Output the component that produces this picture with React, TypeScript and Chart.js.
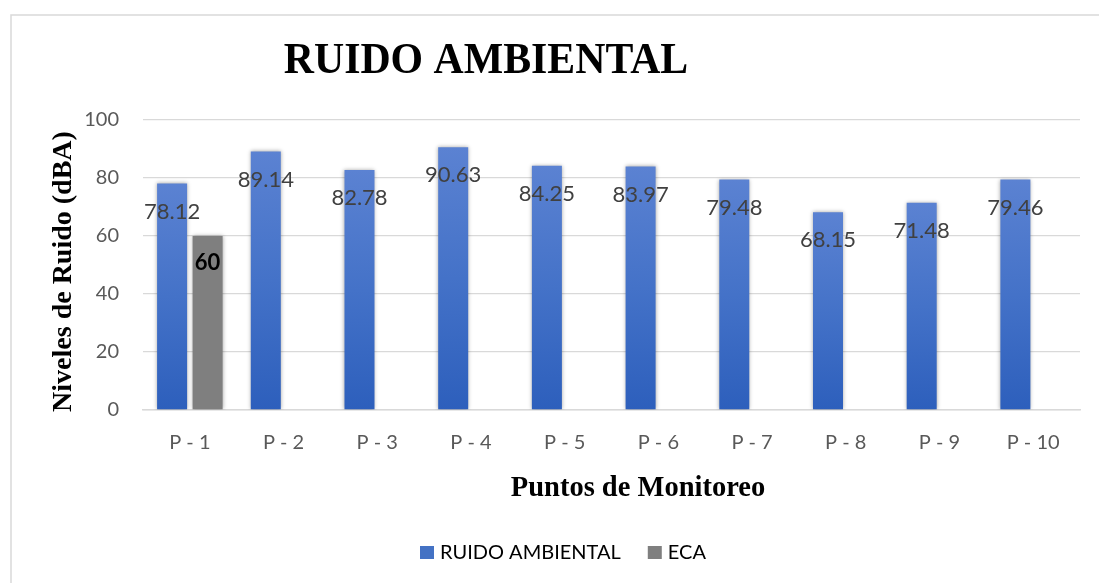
import React, { useEffect, useRef } from "react";
import { Chart, registerables } from "chart.js";

Chart.register(...registerables);

const categories = ["P - 1", "P - 2", "P - 3", "P - 4", "P - 5", "P - 6", "P - 7", "P - 8", "P - 9", "P - 10"];
const ruidoValues = [78.12, 89.14, 82.78, 90.63, 84.25, 83.97, 79.48, 68.15, 71.48, 79.46];
const ecaValues: (number | null)[] = [60, null, null, null, null, null, null, null, null, null];
const yTicks = [0, 20, 40, 60, 80, 100];
const chartTitle = "RUIDO AMBIENTAL";
const yTitle = "Niveles de Ruido (dBA)";
const xTitle = "Puntos de Monitoreo";
const seriesNames = ["RUIDO AMBIENTAL", "ECA"];
const seriesColors = ["#4472c4", "#7f7f7f"];

const SANS = "Lato, 'Open Sans', sans-serif";
const SERIF = "'Liberation Serif', 'Times New Roman', serif";

const framePlugin = {
  id: "frame",
  beforeDraw(chart: any) {
    const ctx = chart.ctx;
    ctx.save();
    ctx.fillStyle = "#ffffff";
    ctx.fillRect(0, 0, chart.width, chart.height);
    ctx.strokeStyle = "#d9d9d9";
    ctx.lineWidth = 1.5;
    ctx.strokeRect(11, 15, chart.width + 50, chart.height + 50);
    ctx.restore();
  },
};

const shadowPlugin = {
  id: "barShadow",
  beforeDatasetsDraw(chart: any) {
    const ctx = chart.ctx;
    ctx.save();
    ctx.shadowColor = "rgba(0,0,0,0.35)";
    ctx.shadowBlur = 4;
    ctx.shadowOffsetX = 0;
    ctx.shadowOffsetY = 0;
  },
  afterDatasetsDraw(chart: any) {
    chart.ctx.restore();
  },
};

const labelsPlugin = {
  id: "barLabels",
  afterDatasetsDraw(chart: any) {
    const ctx = chart.ctx;
    ctx.save();
    ctx.textAlign = "center";
    ctx.textBaseline = "middle";
    chart.data.datasets.forEach((ds: any, di: number) => {
      const meta = chart.getDatasetMeta(di);
      meta.data.forEach((el: any, i: number) => {
        const v = ds.data[i];
        if (v === null || v === undefined) return;
        if (di === 0) {
          ctx.font = `22px ${SANS}`;
          ctx.fillStyle = "#404040";
          ctx.fillText(String(v), el.x, el.y + 28);
        } else {
          ctx.font = `bold 22px ${SANS}`;
          ctx.fillStyle = "#000000";
          ctx.fillText(String(v), el.x, el.y + 27);
        }
      });
    });
    ctx.restore();
  },
};

const titlesPlugin = {
  id: "titles",
  afterDraw(chart: any) {
    const ctx = chart.ctx;
    ctx.save();
    ctx.fillStyle = "#000000";
    ctx.textAlign = "center";
    ctx.textBaseline = "alphabetic";
    // main title
    ctx.save();
    ctx.translate(486, 73);
    ctx.scale(0.95, 1);
    ctx.font = `bold 44px ${SERIF}`;
    ctx.fillText(chartTitle, 0, 0);
    ctx.restore();
    // x title
    ctx.save();
    ctx.translate(638, 496);
    ctx.scale(0.95, 1);
    ctx.font = `bold 30px ${SERIF}`;
    ctx.fillText(xTitle, 0, 0);
    ctx.restore();
    // y title
    ctx.save();
    ctx.translate(71, (130 + 413) / 2);
    ctx.rotate(-Math.PI / 2);
    ctx.font = `bold 28px ${SERIF}`;
    ctx.fillText(yTitle, 0, 0);
    ctx.restore();

    // legend
    ctx.font = `20px ${SANS}`;
    ctx.textAlign = "left";
    ctx.textBaseline = "middle";
    let x = 420;
    const cy = 553;
    seriesNames.forEach((name, i) => {
      ctx.fillStyle = i === 0 ? "#4472c4" : seriesColors[i];
      ctx.fillRect(x, cy - 7, 14, 13);
      ctx.fillStyle = "#000000";
      ctx.fillText(name, x + 20, cy);
      x += 20 + ctx.measureText(name).width + 27;
    });
    ctx.restore();
  },
};

function barGradient(ctx: any) {
  const chart = ctx.chart;
  const yScale = chart.scales.y;
  const v = ctx.raw;
  if (!yScale || v === null || v === undefined || ctx.type !== "data") return "#4472c4";
  const top = yScale.getPixelForValue(v);
  const bottom = yScale.getPixelForValue(0);
  if (!isFinite(top) || !isFinite(bottom) || top === bottom) return "#4472c4";
  const g = chart.ctx.createLinearGradient(0, top, 0, bottom);
  g.addColorStop(0, "#5b82d2");
  g.addColorStop(0.5, "#4472c8");
  g.addColorStop(1, "#2d5fbc");
  return g;
}

export default function App() {
  const canvasRef = useRef<HTMLCanvasElement | null>(null);

  useEffect(() => {
    document.body.style.margin = "0";
    const canvas = canvasRef.current;
    if (!canvas) return;
    const chart = new Chart(canvas, {
      type: "bar",
      data: {
        labels: categories,
        datasets: [
          {
            label: seriesNames[0],
            data: ruidoValues,
            backgroundColor: barGradient as any,
            borderWidth: 0,
            categoryPercentage: 0.758,
            barPercentage: 0.845,
          },
          {
            label: seriesNames[1],
            data: ecaValues,
            backgroundColor: seriesColors[1],
            borderWidth: 0,
            categoryPercentage: 0.758,
            barPercentage: 0.845,
          },
        ],
      },
      options: {
        animation: false,
        responsive: false,
        maintainAspectRatio: false,
        layout: { padding: { top: 120, right: 19, bottom: 0, left: 0 } },
        plugins: {
          title: { display: false },
          tooltip: { enabled: false },
          legend: { display: false },
        },
        scales: {
          x: {
            grid: { display: false },
            border: { display: true, color: "#d9d9d9", width: 1.5 },
            ticks: { color: "#595959", font: { family: SANS, size: 20 }, padding: 13, maxRotation: 0 },
            afterFit(scale: any) {
              scale.height = 173;
            },
          },
          y: {
            min: 0,
            max: 100,
            afterBuildTicks(scale: any) {
              scale.ticks = yTicks.map((v) => ({ value: v }));
            },
            grid: { color: "#d9d9d9", lineWidth: 1.3, drawTicks: false },
            border: { display: false },
            ticks: { color: "#595959", font: { family: SANS, size: 20 }, padding: 24 },
            afterFit(scale: any) {
              scale.width = 143;
            },
          },
        },
      },
      plugins: [framePlugin, shadowPlugin, labelsPlugin, titlesPlugin],
    });
    return () => chart.destroy();
  }, []);

  return (
    <div style={{ position: "fixed", left: 0, top: 0, width: 1099, height: 583 }}>
      <canvas ref={canvasRef} width={1099} height={583} style={{ width: 1099, height: 583, display: "block" }} />
    </div>
  );
}
